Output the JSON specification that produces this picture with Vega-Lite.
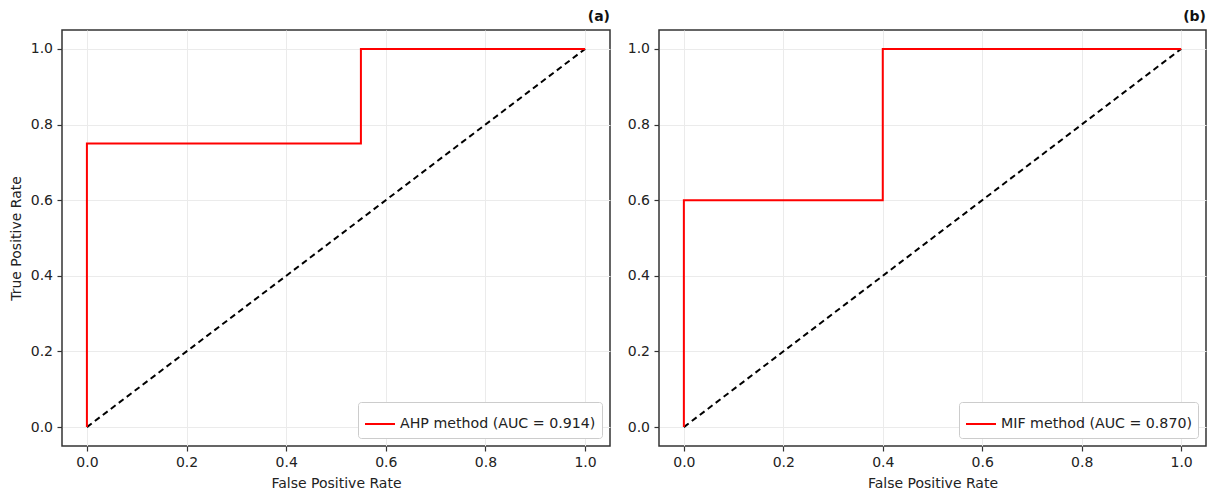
{
  "$schema": "https://vega.github.io/schema/vega-lite/v6.json",
  "background": "white",
  "padding": {"left": 8, "top": 9, "right": 5, "bottom": 5},
  "spacing": 15,
  "config": {
    "font": "DejaVu Sans",
    "view": {"stroke": "#333333", "strokeWidth": 1.5},
    "axis": {
      "domain": false,
      "grid": true,
      "gridColor": "#ebebeb",
      "gridWidth": 1,
      "tickColor": "#333333",
      "tickSize": 5,
      "tickWidth": 1.2,
      "labelFont": "DejaVu Sans",
      "labelFontSize": 14,
      "labelColor": "#222222",
      "labelPadding": 4.5,
      "titleFont": "DejaVu Sans",
      "titleFontSize": 14,
      "titleFontWeight": "normal",
      "titleColor": "#222222",
      "titlePadding": 7
    },
    "legend": {
      "labelFont": "DejaVu Sans",
      "labelFontSize": 14.2,
      "labelColor": "#222222",
      "labelLimit": 400,
      "symbolType": "stroke",
      "symbolSize": 900,
      "symbolStrokeWidth": 2,
      "strokeColor": "#cccccc",
      "fillColor": "white",
      "padding": 6,
      "cornerRadius": 3,
      "orient": "bottom-right",
      "offset": 8,
      "title": null
    },
    "title": {"font": "DejaVu Sans", "fontSize": 14, "fontWeight": "bold", "anchor": "end", "color": "#111111", "offset": 6}
  },
  "datasets": {
    "diag": [{"x": 0, "y": 0}, {"x": 1, "y": 1}],
    "ahp": [
      {"i": 0, "fpr": 0, "tpr": 0, "label": "AHP method (AUC = 0.914)"},
      {"i": 1, "fpr": 0, "tpr": 0.75, "label": "AHP method (AUC = 0.914)"},
      {"i": 2, "fpr": 0.55, "tpr": 0.75, "label": "AHP method (AUC = 0.914)"},
      {"i": 3, "fpr": 0.55, "tpr": 1, "label": "AHP method (AUC = 0.914)"},
      {"i": 4, "fpr": 1, "tpr": 1, "label": "AHP method (AUC = 0.914)"}
    ],
    "mif": [
      {"i": 0, "fpr": 0, "tpr": 0, "label": "MIF method (AUC = 0.870)"},
      {"i": 1, "fpr": 0, "tpr": 0.6, "label": "MIF method (AUC = 0.870)"},
      {"i": 2, "fpr": 0.4, "tpr": 0.6, "label": "MIF method (AUC = 0.870)"},
      {"i": 3, "fpr": 0.4, "tpr": 1, "label": "MIF method (AUC = 0.870)"},
      {"i": 4, "fpr": 1, "tpr": 1, "label": "MIF method (AUC = 0.870)"}
    ]
  },
  "resolve": {"scale": {"color": "independent"}, "legend": {"color": "independent"}},
  "hconcat": [
    {
      "width": 548,
      "height": 416,
      "title": {"text": "(a)"},
      "layer": [
        {
          "data": {"name": "diag"},
          "mark": {"type": "line", "color": "black", "strokeDash": [6, 4], "strokeWidth": 2},
          "encoding": {
            "x": {"field": "x", "type": "quantitative", "scale": {"domain": [-0.05, 1.05], "nice": false, "zero": false}, "axis": {"values": [0, 0.2, 0.4, 0.6, 0.8, 1.0], "format": ".1f", "title": "False Positive Rate"}},
            "y": {"field": "y", "type": "quantitative", "scale": {"domain": [-0.05, 1.05], "nice": false, "zero": false}, "axis": {"values": [0, 0.2, 0.4, 0.6, 0.8, 1.0], "format": ".1f", "title": "True Positive Rate"}}
          }
        },
        {
          "data": {"name": "ahp"},
          "mark": {"type": "line", "strokeWidth": 2},
          "encoding": {
            "x": {"field": "fpr", "type": "quantitative"},
            "y": {"field": "tpr", "type": "quantitative"},
            "order": {"field": "i", "type": "quantitative"},
            "color": {"field": "label", "type": "nominal", "scale": {"range": ["#ff0000"]}}
          }
        }
      ]
    },
    {
      "width": 547,
      "height": 416,
      "title": {"text": "(b)"},
      "layer": [
        {
          "data": {"name": "diag"},
          "mark": {"type": "line", "color": "black", "strokeDash": [6, 4], "strokeWidth": 2},
          "encoding": {
            "x": {"field": "x", "type": "quantitative", "scale": {"domain": [-0.05, 1.05], "nice": false, "zero": false}, "axis": {"values": [0, 0.2, 0.4, 0.6, 0.8, 1.0], "format": ".1f", "title": "False Positive Rate"}},
            "y": {"field": "y", "type": "quantitative", "scale": {"domain": [-0.05, 1.05], "nice": false, "zero": false}, "axis": {"values": [0, 0.2, 0.4, 0.6, 0.8, 1.0], "format": ".1f", "title": null}}
          }
        },
        {
          "data": {"name": "mif"},
          "mark": {"type": "line", "strokeWidth": 2},
          "encoding": {
            "x": {"field": "fpr", "type": "quantitative"},
            "y": {"field": "tpr", "type": "quantitative"},
            "order": {"field": "i", "type": "quantitative"},
            "color": {"field": "label", "type": "nominal", "scale": {"range": ["#ff0000"]}}
          }
        }
      ]
    }
  ]
}
